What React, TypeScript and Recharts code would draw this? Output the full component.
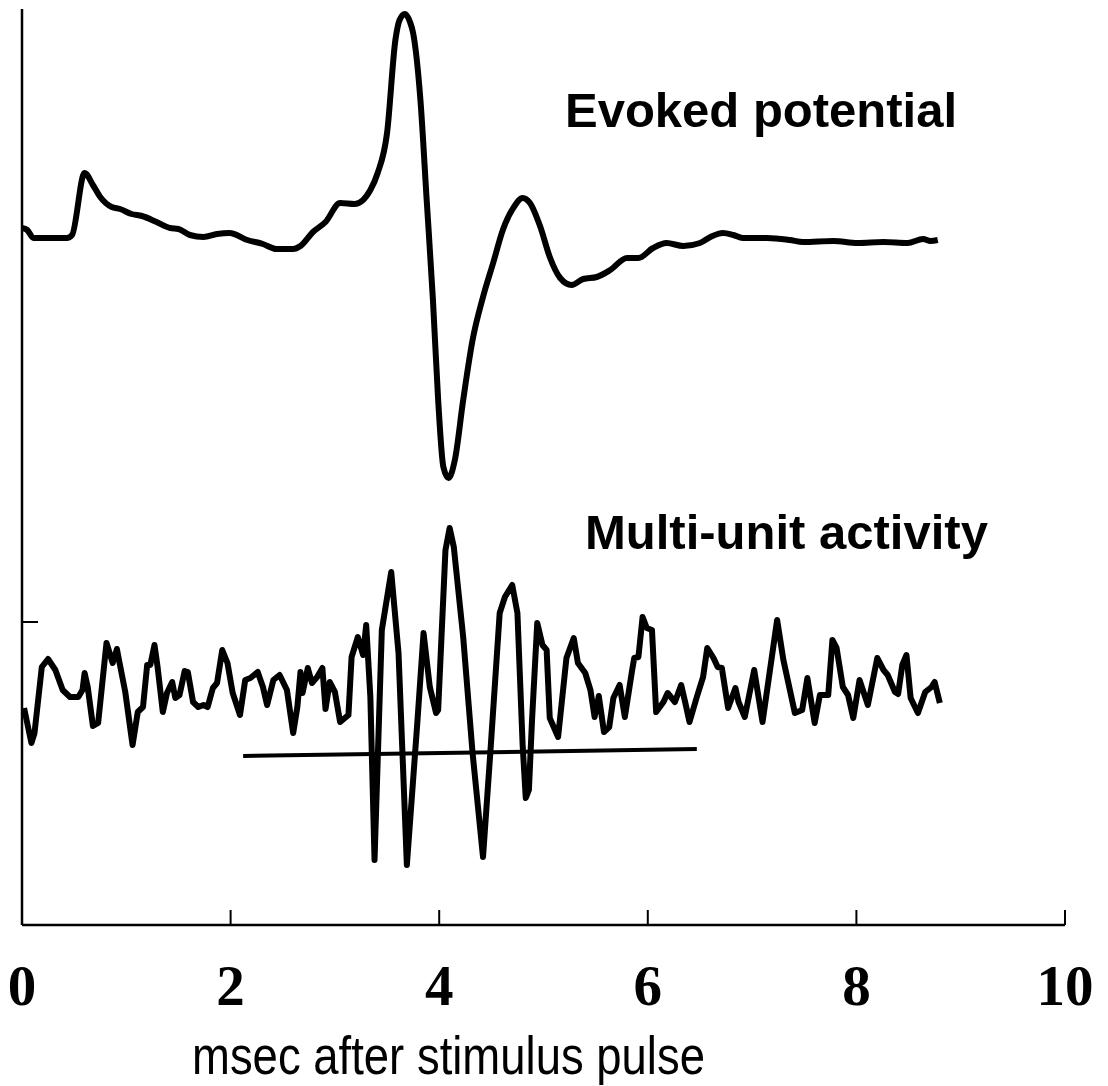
import { LineChart, Line, XAxis, YAxis } from 'recharts';

// time in msec, amplitude in arbitrary units (0 = x-axis)
const EP_TIME = [
  0, 0.05, 0.11, 0.43, 0.48, 0.6, 0.68, 0.75, 0.86, 0.94, 1.05, 1.15, 1.29, 1.42, 1.5, 1.61, 1.74, 1.87,
  1.99, 2.16, 2.31, 2.44, 2.6, 2.67, 2.79, 2.91, 3.05, 3.19, 3.34, 3.41, 3.5, 3.58, 3.62, 3.67, 3.72, 3.75,
  3.82, 3.88, 3.94, 3.99, 4.04, 4.09, 4.15, 4.23, 4.32, 4.42, 4.52, 4.61, 4.71, 4.8, 4.87, 4.97, 5.06, 5.16,
  5.27, 5.38, 5.51, 5.64, 5.8, 5.91, 6.05, 6.18, 6.34, 6.5, 6.6, 6.72, 6.82, 6.91, 7.14, 7.36, 7.49, 7.78,
  8.01, 8.26, 8.49, 8.64, 8.71, 8.78,
];
const EVOKED = [
  697, 695, 687, 687, 690, 752, 740, 728, 718, 716, 711, 709, 703, 697, 696, 690, 688, 691,
  692, 685, 681, 676, 676, 679, 693, 703, 722, 721, 735, 752, 792, 885, 905, 911, 903, 892,
  825, 725, 625, 525, 458, 447, 465, 525, 585, 628, 663, 695, 717, 727, 722, 698, 668, 647,
  640, 646, 648, 655, 667, 667, 677, 682, 679, 682, 688, 692, 690, 687, 687, 685, 683, 684,
  682, 683, 682, 686, 684, 685,
];

const MUA_TIME = [
  0.02, 0.09, 0.12, 0.19, 0.25, 0.32, 0.39, 0.46, 0.54, 0.58, 0.6, 0.63, 0.68, 0.73, 0.81, 0.87, 0.91, 0.93,
  0.99, 1.06, 1.11, 1.16, 1.2, 1.23, 1.27, 1.3, 1.35, 1.39, 1.44, 1.47, 1.51, 1.56, 1.59, 1.64, 1.69, 1.74,
  1.78, 1.83, 1.87, 1.92, 1.97, 2.02, 2.09, 2.14, 2.19, 2.26, 2.31, 2.35, 2.41, 2.47, 2.54, 2.6, 2.64, 2.67,
  2.69, 2.74, 2.78, 2.83, 2.88, 2.91, 2.95, 3.0, 3.05, 3.13, 3.16, 3.22, 3.27, 3.3, 3.34, 3.38, 3.45, 3.54,
  3.61, 3.69, 3.79, 3.85, 3.91, 3.97, 3.99, 4.06, 4.1, 4.14, 4.23, 4.32, 4.42, 4.49, 4.58, 4.63, 4.7, 4.75,
  4.8, 4.83, 4.86, 4.89, 4.94, 4.99, 5.03, 5.06, 5.14, 5.22, 5.29, 5.33, 5.4, 5.45, 5.49, 5.53, 5.58, 5.63,
  5.67, 5.73, 5.78, 5.85, 5.87, 5.91, 5.95, 5.99, 6.04, 6.08, 6.15, 6.19, 6.26, 6.32, 6.36, 6.4, 6.47, 6.53,
  6.57, 6.63, 6.67, 6.71, 6.77, 6.84, 6.87, 6.93, 7.02, 7.1, 7.24, 7.3, 7.41, 7.48, 7.53, 7.6, 7.65, 7.73,
  7.77, 7.81, 7.87, 7.92, 7.97, 8.03, 8.11, 8.2, 8.26, 8.3, 8.37, 8.4, 8.44, 8.48, 8.52, 8.59, 8.66, 8.72,
  8.75, 8.8,
];
const MUA = [
  217, 182, 192, 258, 266, 255, 235, 228, 228, 235, 252, 238, 199, 202, 282, 262, 276, 265,
  233, 180, 213, 218, 260, 260, 280, 258, 213, 232, 243, 227, 230, 254, 253, 223, 218, 220,
  218, 237, 242, 275, 262, 232, 210, 245, 247, 253, 238, 220, 245, 250, 235, 192, 218, 253,
  232, 257, 242, 248, 257, 216, 243, 233, 203, 210, 268, 288, 270, 300, 228, 65, 295, 353,
  272, 60, 202, 292, 238, 212, 215, 375, 397, 378, 288, 172, 68, 172, 312, 328, 340, 312,
  180, 127, 135, 205, 302, 280, 275, 207, 188, 267, 287, 262, 252, 235, 208, 229, 193, 198,
  227, 240, 208, 255, 267, 268, 308, 297, 295, 213, 223, 232, 223, 240, 222, 203, 228, 248,
  277, 267, 258, 257, 217, 237, 223, 208, 255, 203, 305, 265, 212, 215, 247, 202, 230, 230,
  285, 277, 238, 230, 207, 245, 220, 267, 255, 250, 233, 231, 260, 270, 227, 212, 233, 238,
  243, 222,
];

const STIM_TIME = [2.12, 6.47];
const STIM_LEVEL = [169, 176];

const X_TICKS = [0, 2, 4, 6, 8, 10];
const Y_TICKS = [303];

const epData = EP_TIME.map((t, i) => ({ t, v: EVOKED[i] }));
const muaData = MUA_TIME.map((t, i) => ({ t, v: MUA[i] }));
const stimData = STIM_TIME.map((t, i) => ({ t, v: STIM_LEVEL[i] }));

// ticks point up into the plot, labels sit well below the axis
const XTick = ({ x, payload }: any) => {
  const axisY = 925;
  return (
    <g>
      {payload.value !== 0 && (
        <line x1={x} x2={x} y1={axisY} y2={axisY - 15} stroke="#000" strokeWidth={2} />
      )}
      <text
        x={x}
        y={axisY + 80}
        textAnchor="middle"
        fontFamily="'Liberation Serif', serif"
        fontWeight="bold"
        fontSize={57}
        fill="#000"
      >
        {payload.value}
      </text>
    </g>
  );
};

const YTick = ({ y }: any) => {
  const axisX = 22;
  return <line x1={axisX} x2={axisX + 16} y1={y} y2={y} stroke="#000" strokeWidth={2} />;
};

const labelStyle = {
  fontFamily: "'Liberation Sans', Arial, sans-serif",
  fontWeight: 'bold' as const,
  fontSize: 49,
  fill: '#000',
};

export default function App() {
  return (
    <div style={{ position: 'absolute', left: 0, top: 0, width: 1108, height: 1086, background: '#fff' }}>
      <LineChart width={1108} height={1086} margin={{ top: 9, right: 43, bottom: 160, left: 21 }}>
        <XAxis
          type="number"
          dataKey="t"
          domain={[0, 10]}
          ticks={X_TICKS}
          height={1}
          tickSize={0}
          tickMargin={0}
          tickLine={false}
          axisLine={{ stroke: '#000', strokeWidth: 2.5 }}
          tick={<XTick />}
          interval={0}
        />
        <YAxis
          type="number"
          domain={[0, 916]}
          ticks={Y_TICKS}
          width={1}
          tickSize={0}
          tickMargin={0}
          tickLine={false}
          axisLine={{ stroke: '#000', strokeWidth: 2.5 }}
          tick={<YTick />}
          interval={0}
        />
        <Line
          data={epData}
          dataKey="v"
          type="monotone"
          stroke="#000"
          strokeWidth={6}
          dot={false}
          isAnimationActive={false}
        />
        <Line
          data={muaData}
          dataKey="v"
          type="linear"
          stroke="#000"
          strokeWidth={6}
          strokeLinejoin="round"
          dot={false}
          isAnimationActive={false}
        />
        <Line
          data={stimData}
          dataKey="v"
          type="linear"
          stroke="#000"
          strokeWidth={4}
          dot={false}
          isAnimationActive={false}
        />
        <text x={565} y={127} {...labelStyle}>
          Evoked potential
        </text>
        <text x={585} y={549} {...labelStyle}>
          Multi-unit activity
        </text>
        <text
          x={192}
          y={1074}
          fontFamily="'Liberation Sans', Arial, sans-serif"
          fontSize={54}
          fill="#000"
          textLength={513}
          lengthAdjust="spacingAndGlyphs"
        >
          msec after stimulus pulse
        </text>
      </LineChart>
    </div>
  );
}
